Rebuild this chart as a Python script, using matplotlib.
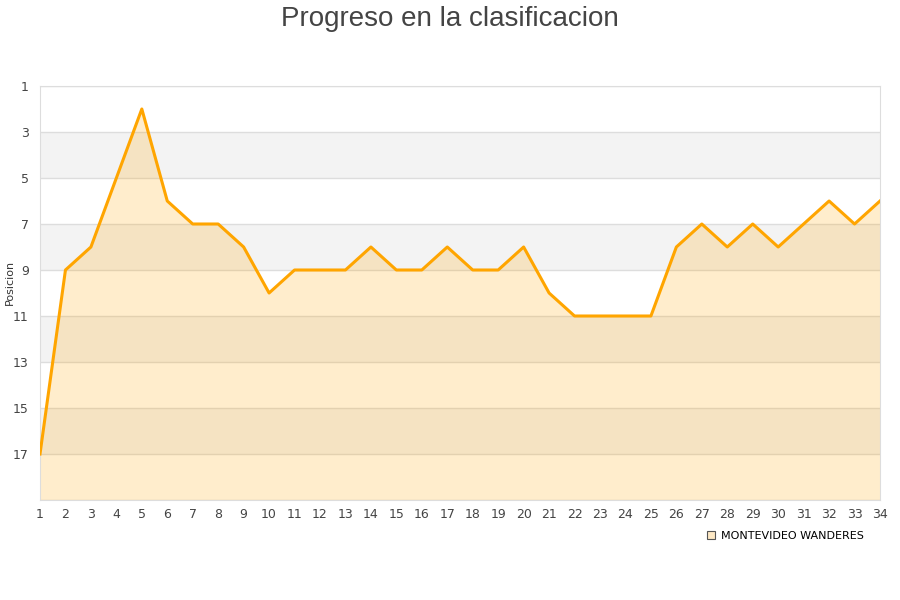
import numpy as np
import matplotlib
matplotlib.use("Agg")
import matplotlib.pyplot as plt
from matplotlib.lines import Line2D

# datos: posicion por jornada
jornadas = list(range(1, 35))
posiciones = [17, 9, 8, 5, 2, 6, 7, 7, 8, 10, 9, 9, 9, 8, 9, 9, 8, 9, 9, 8,
              10, 11, 11, 11, 11, 8, 7, 8, 7, 8, 7, 6, 7, 6]
equipo = "MONTEVIDEO WANDERES"
y_ticks = [1, 3, 5, 7, 9, 11, 13, 15, 17]

fig = plt.figure(figsize=(9, 6), dpi=100)
ax = fig.add_axes([40 / 900, 1 - 500 / 600, 840 / 900, 414 / 600])

# bandas alternas de fondo
for lo in range(3, 19, 4):
    ax.axhspan(lo, lo + 2, color="#f3f3f3", zorder=0, lw=0)
for y in range(1, 20, 2):
    ax.axhline(y, color="#dddddd", lw=1, zorder=1)

ax.fill_between(jornadas, posiciones, 19, color="#ffa500", alpha=0.2, lw=0, zorder=2)
ax.plot(jornadas, posiciones, color="#ffa500", lw=2.2, zorder=3)

ax.set_xlim(1, 34)
ax.set_ylim(19, 1)
ax.set_xticks(jornadas)
ax.set_yticks(y_ticks)
ax.tick_params(axis="both", length=0, labelsize=9, colors="#444444", pad=6)
ax.tick_params(axis="y", pad=8)
for s in ax.spines.values():
    s.set_color("#dddddd")

ax.set_ylabel("Posicion", fontsize=8, color="#333333")
ax.yaxis.set_label_coords(-0.03, 0.525)

fig.suptitle("Progreso en la clasificacion", y=0.99, fontsize=20,
             color="#444444", family="Liberation Sans")

handle = Line2D([], [], marker="s", ls="none", markersize=6,
                markerfacecolor="#fde8c4", markeredgecolor="#555555", markeredgewidth=0.8)
fig.legend([handle], [equipo], loc="center", bbox_to_anchor=(785 / 900, 1 - 536 / 600),
           frameon=False, fontsize=8, handletextpad=0.4, handlelength=1)

fig.savefig("out.png", dpi=100)
